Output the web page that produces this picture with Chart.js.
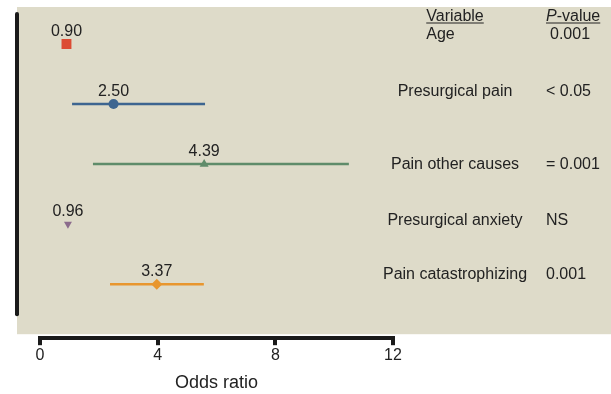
<!DOCTYPE html>
<html>
<head>
<meta charset="utf-8">
<script src="https://cdn.jsdelivr.net/npm/chart.js@4/dist/chart.umd.min.js"></script>
<style>
  html, body { margin: 0; padding: 0; background: #ffffff; }
  #wrap { width: 611px; height: 394px; position: relative; }
</style>
</head>
<body>
<div id="wrap"><canvas id="c" width="611" height="394"></canvas></div>
<script>
// ---- data ----
const variables = ['Age', 'Presurgical pain', 'Pain other causes', 'Presurgical anxiety', 'Pain catastrophizing'];
const oddsRatioLabels = ['0.90', '2.50', '4.39', '0.96', '3.37'];
const markerX = [0.90, 2.50, 5.58, 0.95, 3.97];
const ciLow = [null, 1.09, 1.80, null, 2.38];
const ciHigh = [null, 5.61, 10.50, null, 5.57];
const pValues = ['0.001', '< 0.05', '= 0.001', 'NS', '0.001'];
const xTicks = [0, 4, 8, 12];

// ---- styles ----
const FONT = '"Liberation Sans", Arial, Helvetica, sans-serif';
const TEXT = '#222222';
const colors = ['#dc4b33', '#3d6590', '#5f8c6a', '#8b6b8c', '#e8962e'];
const styles = ['rect', 'circle', 'triangle', 'triangle', 'rectRot'];
const radii = [7, 5, 5.2, 4.6, 5.5];
const rotations = [0, 0, 0, 180, 0];
const nameOffsets = [-5, -8, 5, 1, -5];   // baseline offset of variable name vs marker row (px)

const rowY = variables.map((_, i) => i + 0.5);

const ciDatasets = [];
variables.forEach((v, i) => {
  if (ciLow[i] == null) return;
  ciDatasets.push({
    type: 'line',
    data: [{x: ciLow[i], y: rowY[i]}, {x: ciHigh[i], y: rowY[i]}],
    borderColor: colors[i],
    borderWidth: 2.5,
    pointRadius: 0,
    fill: false,
    order: 2
  });
});

const decor = {
  id: 'decor',
  beforeDraw(chart) {
    const {ctx, chartArea} = chart;
    ctx.save();
    ctx.fillStyle = '#dedbc9';
    ctx.fillRect(17, chartArea.top - 7, chart.width - 17, chartArea.bottom - chartArea.top + 3);
    ctx.restore();
  },
  afterDraw(chart) {
    const {ctx, chartArea, scales} = chart;
    const xs = scales.x, ys = scales.y;
    ctx.save();
    // vertical axis bar
    ctx.strokeStyle = '#1a1a1a';
    ctx.lineWidth = 4;
    ctx.lineCap = 'round';
    ctx.beginPath();
    ctx.moveTo(chartArea.left - 23, chartArea.top);
    ctx.lineTo(chartArea.left - 23, ys.getPixelForValue(rowY[rowY.length - 1]) + 30);
    ctx.stroke();

    // value labels above markers
    ctx.fillStyle = TEXT;
    ctx.font = '16px ' + FONT;
    ctx.textAlign = 'center';
    ctx.textBaseline = 'alphabetic';
    oddsRatioLabels.forEach((t, i) => {
      ctx.fillText(t, xs.getPixelForValue(markerX[i]), ys.getPixelForValue(rowY[i]) - 8);
    });

    // right-hand table
    const nameX = chartArea.right + 62;
    const pX = chartArea.right + 153;
    const headY = chartArea.top + 7;
    ctx.textAlign = 'center';
    ctx.fillText('Variable', nameX, headY);
    let w = ctx.measureText('Variable').width;
    ctx.fillRect(nameX - w / 2, headY + 1.5, w, 1);
    // P-value header
    ctx.textAlign = 'left';
    ctx.font = 'italic 16px ' + FONT;
    ctx.fillText('P', pX, headY);
    const wp = ctx.measureText('P').width;
    ctx.font = '16px ' + FONT;
    ctx.fillText('-value', pX + wp, headY);
    const wv = ctx.measureText('-value').width;
    ctx.fillRect(pX, headY + 1.5, wp + wv, 1);

    variables.forEach((v, i) => {
      const y = ys.getPixelForValue(rowY[i]) + nameOffsets[i];
      if (i === 0) {
        ctx.textAlign = 'left';
        ctx.fillText(v, nameX - w / 2, y);
        ctx.fillText(pValues[i], pX + 4, y);
      } else {
        ctx.textAlign = 'center';
        ctx.fillText(v, nameX, y);
        ctx.textAlign = 'left';
        ctx.fillText(pValues[i], pX, y);
      }
    });
    ctx.restore();
  }
};

new Chart(document.getElementById('c'), {
  type: 'scatter',
  data: {
    datasets: [
      ...ciDatasets,
      {
        type: 'scatter',
        data: markerX.map((x, i) => ({x, y: rowY[i]})),
        pointStyle: styles,
        pointRadius: radii,
        pointRotation: rotations,
        pointBackgroundColor: colors,
        pointBorderColor: colors,
        pointBorderWidth: 0,
        order: 1
      }
    ]
  },
  options: {
    responsive: false,
    animation: false,
    events: [],
    layout: { padding: { left: 40, right: 218, top: 14, bottom: 0 } },
    plugins: { legend: { display: false }, tooltip: { enabled: false } },
    scales: {
      x: {
        type: 'linear',
        min: 0,
        max: 12,
        afterBuildTicks(scale) { scale.ticks = xTicks.map(v => ({value: v})); },
        border: { display: true, width: 4, color: '#1a1a1a' },
        grid: { display: true, drawOnChartArea: false, drawTicks: true, tickLength: 7, lineWidth: 4, color: '#1a1a1a' },
        ticks: { font: { family: FONT, size: 16 }, color: TEXT, padding: 1, maxRotation: 0 },
        title: { display: true, text: 'Odds ratio', font: { family: FONT, size: 18 }, color: TEXT, padding: { top: 6, bottom: 0 } }
      },
      y: {
        type: 'linear',
        min: 0,
        max: 5.4,
        reverse: true,
        display: false
      }
    }
  },
  plugins: [decor]
});
</script>
</body>
</html>
